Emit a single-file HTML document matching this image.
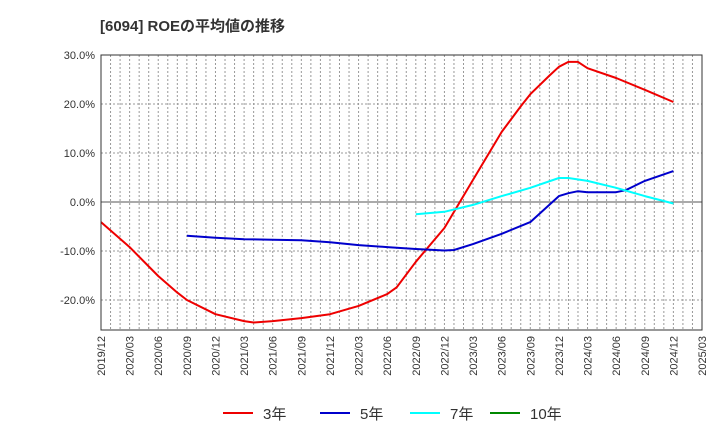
<!DOCTYPE html>
<html><head><meta charset="utf-8"><style>
body{margin:0;background:#fff;}
svg{display:block;font-family:"Liberation Sans","Noto Sans CJK JP",sans-serif;}
</style></head><body>
<svg id="c" width="720" height="440">
<text x="100" y="31" font-size="15" font-weight="bold" fill="#333">[6094]  ROEの平均値の推移</text>
<g id="grid"></g><g id="series"></g><g id="axes"></g>
<g>
<g><line x1="223" y1="413" x2="253" y2="413" stroke="#e00" stroke-width="2"/><text x="263" y="419" font-size="15" fill="#333">3年</text></g>
<g><line x1="320" y1="413" x2="350" y2="413" stroke="#00c" stroke-width="2"/><text x="360" y="419" font-size="15" fill="#333">5年</text></g>
<g><line x1="410" y1="413" x2="440" y2="413" stroke="#0ff" stroke-width="2"/><text x="450" y="419" font-size="15" fill="#333">7年</text></g>
<g><line x1="490" y1="413" x2="520" y2="413" stroke="#080" stroke-width="2"/><text x="530" y="419" font-size="15" fill="#333">10年</text></g>
</g>
</svg>
<script>
const xTickLabels=["2019/12","2020/03","2020/06","2020/09","2020/12","2021/03","2021/06","2021/09","2021/12","2022/03","2022/06","2022/09","2022/12","2023/03","2023/06","2023/09","2023/12","2024/03","2024/06","2024/09","2024/12","2025/03"];
const yTicks=[30,20,10,0,-10,-20];
const r3Months=[0,3,6,8,9,12,15,16,18,21,24,27,30,31,33,36,39,42,44,45,47,48,49,50,51,54,57,60];
const r3Values=[-4.1,-9.2,-15.1,-18.5,-20,-22.9,-24.3,-24.6,-24.3,-23.7,-22.9,-21.2,-18.8,-17.4,-12.2,-5.3,4.5,14.3,19.5,22.0,25.8,27.6,28.6,28.6,27.3,25.3,22.9,20.4];
const b5Months=[9,12,15,18,21,24,27,30,33,36,37,39,42,45,48,49,50,51,54,55,57,60];
const b5Values=[-6.9,-7.3,-7.6,-7.7,-7.8,-8.2,-8.8,-9.2,-9.6,-9.9,-9.8,-8.6,-6.5,-4.1,1.2,1.8,2.2,2.0,2.0,2.4,4.3,6.3];
const c7Months=[33,36,39,42,45,48,49,51,54,57,60];
const c7Values=[-2.5,-2.0,-0.6,1.2,2.9,4.9,4.9,4.3,2.9,1.2,-0.3];
const L=101,R=702,T=55,B=330;
const xs=m=>L+m*(R-L)/63;
const ys=v=>202-v*4.9;
const NS="http://www.w3.org/2000/svg";
function mk(p,t,a){const e=document.createElementNS(NS,t);for(const k in a)e.setAttribute(k,a[k]);p.appendChild(e);return e;}
const g=document.getElementById('grid'),ax=document.getElementById('axes'),s=document.getElementById('series');
for(let m=1;m<63;m++){const l=mk(g,'line',{x1:xs(m),x2:xs(m),y1:T,y2:B,stroke:'#999','stroke-width':1,'stroke-dasharray':'2,2'});

}
yTicks.forEach(v=>{const l=mk(g,'line',{x1:L,x2:R,y1:ys(v),y2:ys(v),stroke:v===0?'#555':'#999','stroke-width':1,'stroke-dasharray':v===0?'':'2,2'});


const t=mk(ax,'text',{x:L-6,y:ys(v)+4,'text-anchor':'end','font-size':11,fill:'#333'});t.textContent=v.toFixed(1)+'%';

});
const fr=mk(ax,'rect',{x:L,y:T,width:R-L,height:B-T,fill:'none',stroke:'#333','stroke-width':1});


xTickLabels.forEach((lab,i)=>{const x=xs(i*3);const t=mk(ax,'text',{x:0,y:0,'text-anchor':'end','font-size':11,fill:'#333',transform:`translate(${x+4},336) rotate(-90)`});t.textContent=lab;

});
function line(ms,vs,col,name){const d=ms.map((m,i)=>(i?'L':'M')+xs(m).toFixed(1)+','+ys(vs[i]).toFixed(1)).join('');
const p=mk(s,'path',{d:d,fill:'none',stroke:col,'stroke-width':2,'stroke-linejoin':'round'});

}
line(r3Months,r3Values,'#e00','series-3y');
line(b5Months,b5Values,'#00c','series-5y');
line(c7Months,c7Values,'#0ff','series-7y');
</script>
</body></html>
